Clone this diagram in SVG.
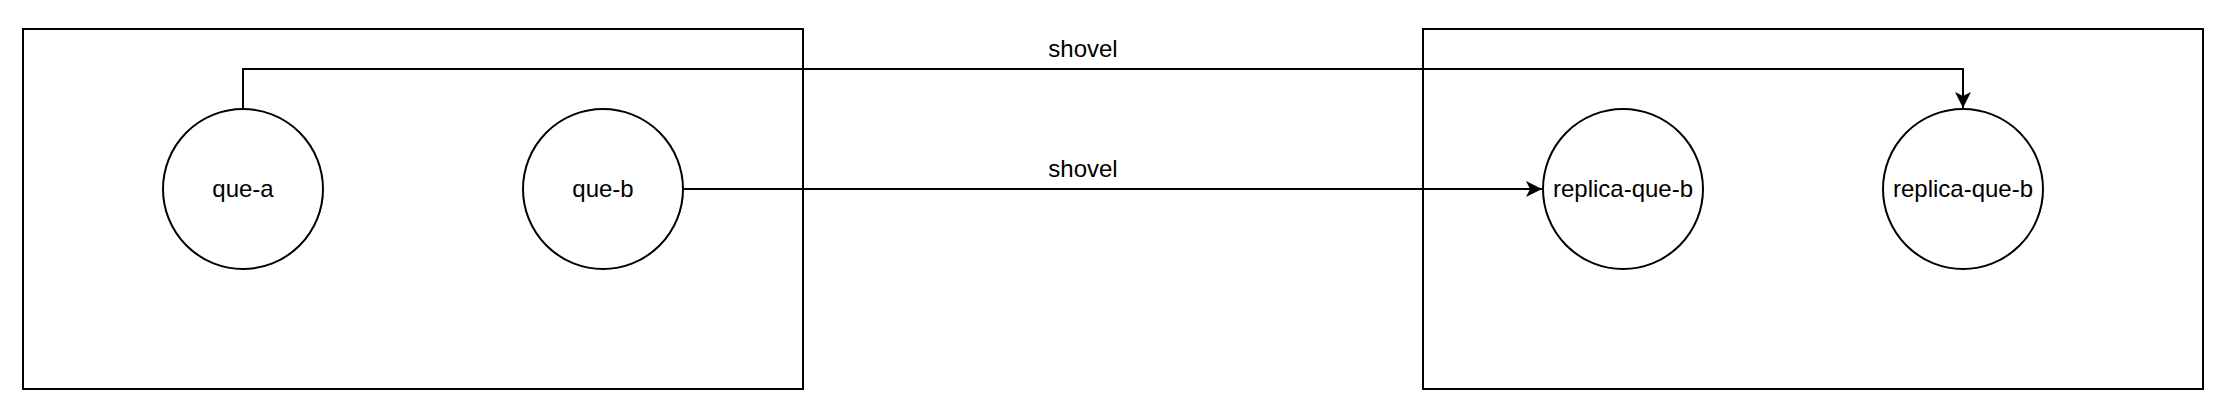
<svg xmlns="http://www.w3.org/2000/svg" width="2230" height="406" viewBox="0 0 2230 406">
<defs>
<style>
.box{fill:none;stroke:#000;stroke-width:2}
.node circle{fill:#fff;stroke:#000;stroke-width:2}
.node text,.lbl{font-family:"Liberation Sans",Arial,sans-serif;font-size:24px;fill:#000;text-anchor:middle}
.edge{fill:none;stroke:#000;stroke-width:2}
</style>
<marker id="arr" viewBox="0 0 18 16" refX="17" refY="8" markerWidth="18" markerHeight="16" markerUnits="userSpaceOnUse" orient="auto">
<path d="M1,0 L17,8 L1,16 L5,8 Z" fill="#000"/>
</marker>
</defs>
<rect width="2230" height="406" fill="#fff"/>
<g id="group-left"><rect class="box" x="23" y="29" width="780" height="360"/></g>
<g id="group-right"><rect class="box" x="1423" y="29" width="780" height="360"/></g>
<g id="connectors">
<path class="edge" d="M243,109 V69 H1963 V108" marker-end="url(#arr)"/>
<text class="lbl" x="1083" y="57">shovel</text>
<path class="edge" d="M683,189 H1542" marker-end="url(#arr)"/>
<text class="lbl" x="1083" y="177">shovel</text>
</g>
<g id="que-a" class="node"><circle cx="243" cy="189" r="80"/><text x="243" y="197">que-a</text></g>
<g id="que-b" class="node"><circle cx="603" cy="189" r="80"/><text x="603" y="197">que-b</text></g>
<g id="replica-que-b-1" class="node"><circle cx="1623" cy="189" r="80"/><text x="1623" y="197">replica-que-b</text></g>
<g id="replica-que-b-2" class="node"><circle cx="1963" cy="189" r="80"/><text x="1963" y="197">replica-que-b</text></g>
</svg>
